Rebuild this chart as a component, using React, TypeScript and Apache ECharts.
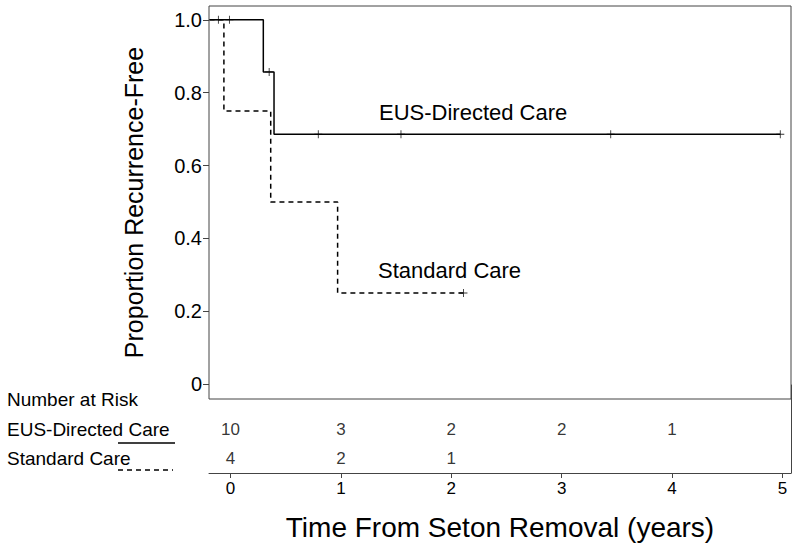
import React, { useEffect, useRef } from "react";
import * as echarts from "echarts";

const FONT = "'Liberation Sans', Arial, Helvetica, sans-serif";

// Axis ranges and ticks
const xRange = [-0.195, 5.077];
const yRange = [-0.041, 1.038];
const xTicks = [0, 1, 2, 3, 4, 5];
const yTicks = [0, 0.2, 0.4, 0.6, 0.8, 1.0];

// Kaplan–Meier steps
const eusTimes = [-0.19, 0.297, 0.394, 4.98];
const eusSurv = [1, 0.857, 0.686, 0.686];
const stdTimes = [-0.19, -0.06, 0.364, 0.97, 2.11];
const stdSurv = [1, 0.75, 0.5, 0.25, 0.25];

// Censor marks
const eusCensorTimes = [-0.11, -0.01, 0.35, 0.795, 1.544, 3.444, 4.98];
const eusCensorSurv = [1, 1, 0.857, 0.686, 0.686, 0.686, 0.686];
const stdCensorTimes = [2.11];
const stdCensorSurv = [0.25];

// Number at risk table
const riskRows = ["Number at Risk", "EUS-Directed Care", "Standard Care"];
const riskTimes = [0, 1, 2, 3, 4];
const eusAtRisk = [10, 3, 2, 2, 1];
const stdAtRisk = [4, 2, 1];

const seriesNames = ["EUS-Directed Care", "Standard Care"];
const xTitle = "Time From Seton Removal (years)";
const yTitle = "Proportion Recurrence-Free";

const PLUS = "path://M4,0H5V9H4Z M0,4H9V5H0Z";
const FRAME = "#444";

export default function App() {
  const ref = useRef<HTMLDivElement>(null);
  useEffect(() => {
    if (!ref.current) return;
    const chart = echarts.init(ref.current, undefined, { renderer: "svg" });
    const zip = (a: number[], b: number[]) => a.map((v, i) => [v, b[i]]);
    const option: any = {
      animation: false,
      backgroundColor: "#fff",
      textStyle: { fontFamily: FONT },
      grid: [
        { left: 209, top: 6, width: 582, height: 393, show: true, borderColor: FRAME, borderWidth: 1, backgroundColor: "transparent" },
        { left: 209, top: 385, width: 582, height: 88, show: false },
      ],
      xAxis: [
        { gridIndex: 0, type: "value", min: xRange[0], max: xRange[1], show: false },
        {
          gridIndex: 1, type: "value", min: xRange[0], max: xRange[1],
          axisLine: { show: true, onZero: false, lineStyle: { color: FRAME, width: 1 } },
          axisTick: { show: true, customValues: xTicks, length: 5, lineStyle: { color: FRAME } },
          axisLabel: { customValues: xTicks, fontSize: 17, color: "#000", margin: 7, fontFamily: FONT },
          splitLine: { show: false },
          name: xTitle, nameLocation: "middle", nameGap: 40,
          nameTextStyle: { fontSize: 28, color: "#000", fontFamily: FONT },
        },
      ],
      yAxis: [
        {
          gridIndex: 0, type: "value", min: yRange[0], max: yRange[1],
          axisLine: { show: false, onZero: false },
          axisTick: { show: true, customValues: yTicks, length: 6, lineStyle: { color: FRAME } },
          axisLabel: {
            customValues: yTicks, fontSize: 20, color: "#000", margin: 7, fontFamily: FONT,
            formatter: (v: number) => (v === 0 ? "0" : v.toFixed(1)),
          },
          splitLine: { show: false },
          name: yTitle, nameLocation: "middle", nameGap: 63,
          nameTextStyle: { fontSize: 25, color: "#000", fontFamily: FONT },
        },
        {
          gridIndex: 1, type: "category", data: riskRows, inverse: true,
          axisLine: { show: false, onZero: false }, axisTick: { show: false },
          axisLabel: { align: "left", margin: 202, fontSize: 19, color: "#000", fontFamily: FONT },
          splitLine: { show: false },
        },
        {
          gridIndex: 1, type: "value", position: "right",
          axisLine: { show: true, onZero: false, lineStyle: { color: FRAME, width: 1 } },
          axisTick: { show: false }, axisLabel: { show: false }, splitLine: { show: false },
        },
      ],
      series: [
        {
          name: seriesNames[0], type: "line", step: "end", xAxisIndex: 0, yAxisIndex: 0,
          data: zip(eusTimes, eusSurv), showSymbol: false,
          lineStyle: { color: "#000", width: 1.5 },
        },
        {
          name: seriesNames[1], type: "line", step: "end", xAxisIndex: 0, yAxisIndex: 0,
          data: zip(stdTimes, stdSurv), showSymbol: false,
          lineStyle: { color: "#000", width: 1.5, type: [5, 4] },
        },
        {
          type: "scatter", xAxisIndex: 0, yAxisIndex: 0, symbol: PLUS, symbolSize: 8,
          data: zip(eusCensorTimes, eusCensorSurv), itemStyle: { color: "#000" },
        },
        {
          type: "scatter", xAxisIndex: 0, yAxisIndex: 0, symbol: PLUS, symbolSize: 8,
          data: zip(stdCensorTimes, stdCensorSurv), itemStyle: { color: "#000" },
        },
        {
          type: "scatter", xAxisIndex: 1, yAxisIndex: 1, symbolSize: 0,
          itemStyle: { color: "#000" },
          data: [
            ...eusAtRisk.map((n, i) => [riskTimes[i], riskRows[1], n]),
            ...stdAtRisk.map((n, i) => [riskTimes[i], riskRows[2], n]),
          ],
          label: {
            show: true, position: "inside", color: "#000", fontSize: 17, fontFamily: FONT,
            textBorderWidth: 0,
            formatter: (p: any) => String(p.value[2]),
          },
        },
      ],
      graphic: [
        { type: "text", left: 379, top: 101, style: { text: seriesNames[0], fontSize: 22, fill: "#000", fontFamily: FONT } },
        { type: "text", left: 378, top: 259, style: { text: seriesNames[1], fontSize: 22, fill: "#000", fontFamily: FONT } },
        { type: "line", shape: { x1: 118, y1: 443, x2: 175, y2: 443 }, style: { stroke: "#000", lineWidth: 1.5 } },
        { type: "line", shape: { x1: 118, y1: 470, x2: 173, y2: 470 }, style: { stroke: "#000", lineWidth: 1.5, lineDash: [5, 4] } },
      ],
    };
    chart.setOption(option);
    return () => chart.dispose();
  }, []);
  return <div ref={ref} style={{ position: "fixed", left: 0, top: 0, width: 800, height: 553 }} />;
}
